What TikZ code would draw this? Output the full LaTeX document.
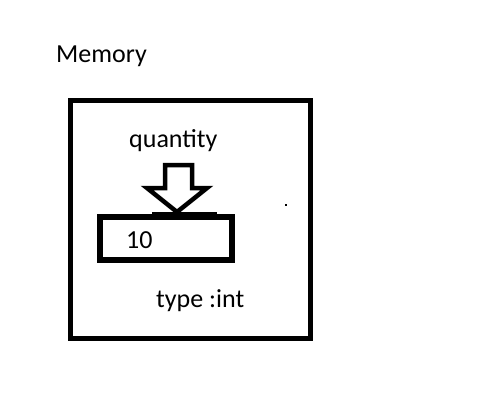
\documentclass[tikz,border=0pt]{standalone}
\usepackage{fontspec}
\setmainfont{Carlito}
\begin{document}
\begin{tikzpicture}[x=1pt,y=-1pt,
  lbl/.style={font=\fontsize{26}{30}\selectfont, inner sep=0pt, anchor=base west},
  boxstyle/.style={draw, line width=#1, inner sep=0pt, outer sep=0pt},
  hollowarrow/.style={draw, line width=4.5pt, line join=miter, fill=white}]
\useasboundingbox (0,0) rectangle (500,400);
\node[lbl] (memlabel) at (56,62) {Memory};
\node[boxstyle=5pt, minimum width=239.5pt, minimum height=237.5pt] (mem) at (190.25,219.25) {};
\node[lbl] (qlabel) at (129,147) {quantity};
\node[boxstyle=6pt, minimum width=131.5pt, minimum height=43.5pt] (cell) at (165.75,238.25) {};
\node[lbl] (val) at (126,248) {10};
\node[lbl] (type) at (156,307) {type :int};
\draw[line width=1.5pt] (152,213) -- (217,213);
\draw[hollowarrow] (165,188) -- (165,165) -- (192,165) -- (192,188) -- (207,188) -- (177,212) -- (147,188) -- cycle;
\fill (285,204) rectangle (287,206);
\end{tikzpicture}
\end{document}
